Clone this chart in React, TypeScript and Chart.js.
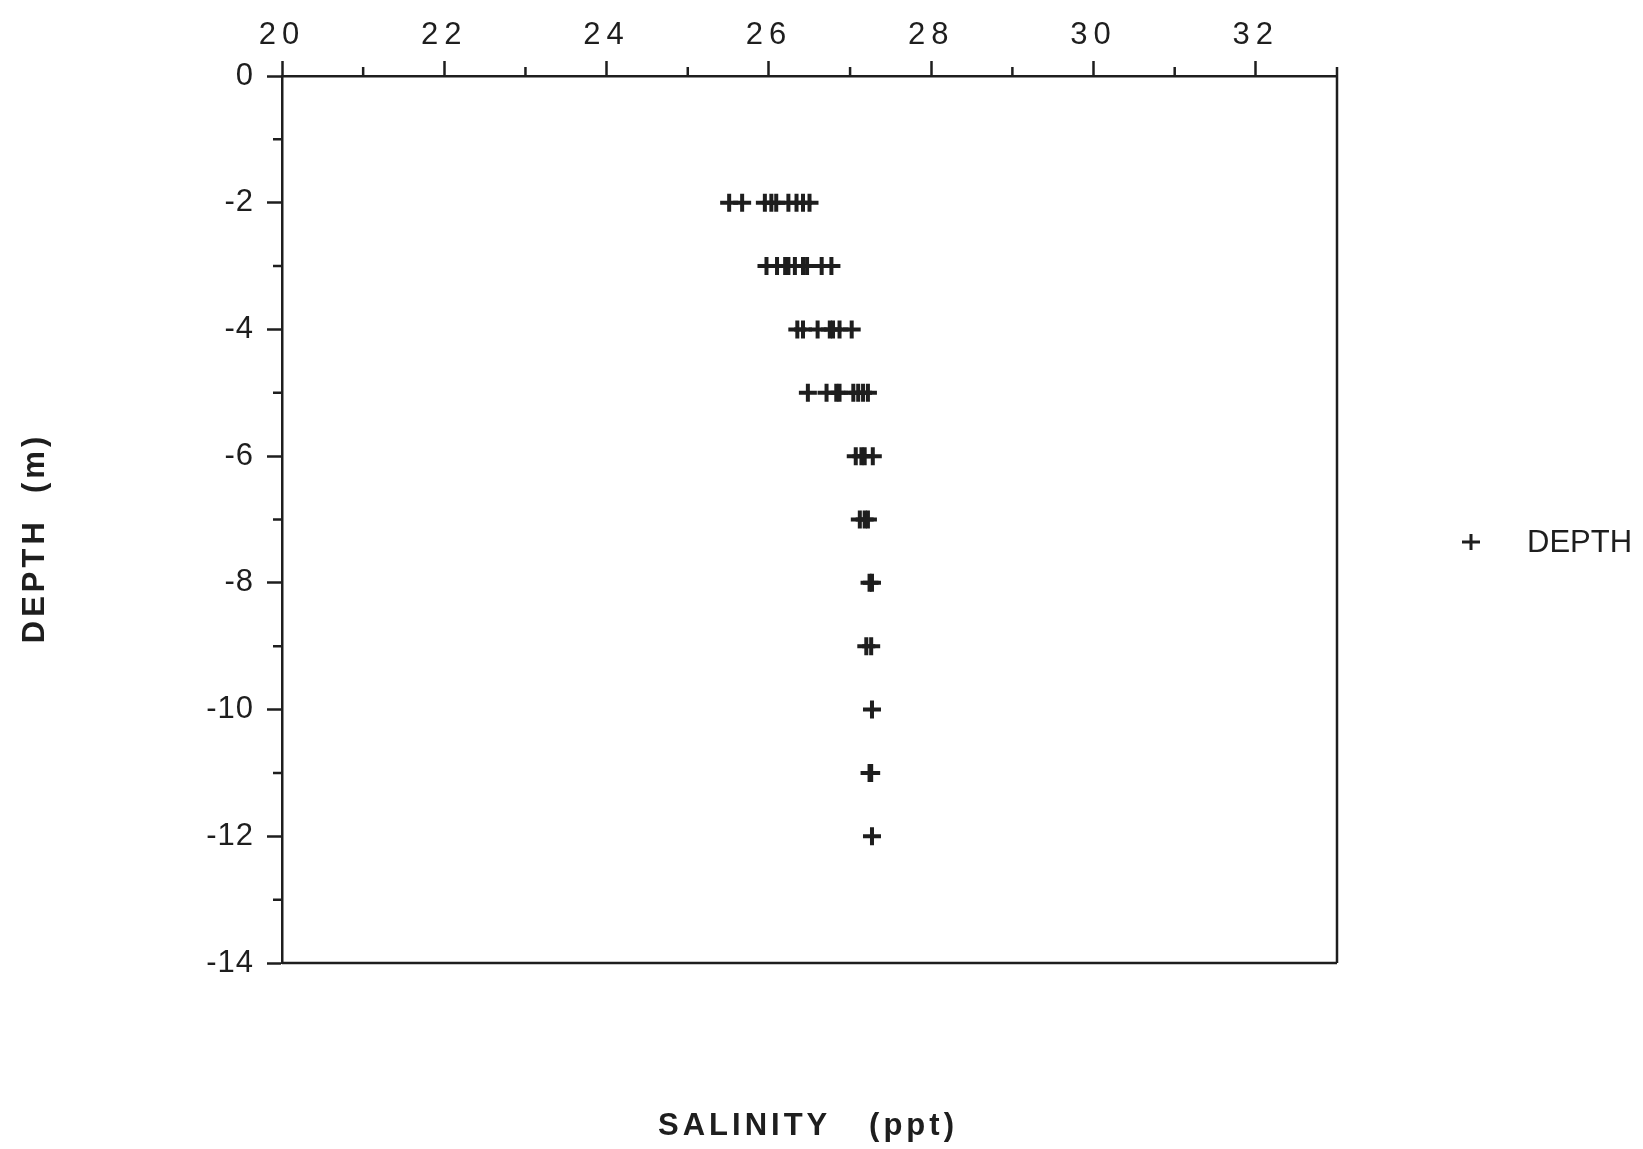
import { useEffect, useRef } from "react";
import { Chart, registerables } from "chart.js";

Chart.register(...registerables);

// Axis ticks
const salinityTicks = [20, 22, 24, 26, 28, 30, 32];
const salinityMinorTicks = [21, 23, 25, 27, 29, 31, 33];
const depthTicks = [0, -2, -4, -6, -8, -10, -12, -14];
const depthMinorTicks = [-1, -3, -5, -7, -9, -11, -13];

// Sampled depths (m) and the salinity readings (ppt) taken at each
const depthLevels = [-2, -3, -4, -5, -6, -7, -8, -9, -10, -11, -12];
const salinityAt2m = [25.51, 25.67, 25.95, 26.03, 26.09, 26.24, 26.34, 26.42, 26.5];
const salinityAt3m = [25.97, 26.1, 26.2, 26.24, 26.32, 26.42, 26.47, 26.65, 26.77];
const salinityAt4m = [26.35, 26.42, 26.6, 26.75, 26.79, 26.87, 27.02];
const salinityAt5m = [26.48, 26.71, 26.83, 26.87, 27.04, 27.1, 27.16, 27.22];
const salinityAt6m = [27.07, 27.14, 27.18, 27.28];
const salinityAt7m = [27.12, 27.18, 27.22];
const salinityAt8m = [27.24, 27.27];
const salinityAt9m = [27.2, 27.26];
const salinityAt10m = [27.27];
const salinityAt11m = [27.24, 27.26];
const salinityAt12m = [27.27];

const salinityByLevel = [
  salinityAt2m,
  salinityAt3m,
  salinityAt4m,
  salinityAt5m,
  salinityAt6m,
  salinityAt7m,
  salinityAt8m,
  salinityAt9m,
  salinityAt10m,
  salinityAt11m,
  salinityAt12m,
];

const INK = "#1e1e1e";
const SANS = "'Liberation Sans', Arial, Helvetica, sans-serif";
const W = 1643;
const H = 1149;

const points = depthLevels.flatMap((d, i) =>
  salinityByLevel[i].map((s) => ({ x: s, y: d }))
);

// Wraps a scale's label drawing so its text gets extra tracking
function trackLabels(chart: any, scale: any, spacing: string) {
  if (scale.__tracked) return;
  const orig = scale.drawLabels.bind(scale);
  scale.drawLabels = (area: any) => {
    const ctx = chart.ctx;
    ctx.save();
    ctx.letterSpacing = spacing;
    orig(area);
    ctx.restore();
  };
  scale.__tracked = true;
}

// Frame, minor ticks, axis titles and the legend entry
const decorPlugin = {
  id: "decor",
  beforeDraw(chart: any) {
    trackLabels(chart, chart.scales.x, "6px");
    trackLabels(chart, chart.scales.y, "1px");
  },
  afterDraw(chart: any) {
    const ctx = chart.ctx as CanvasRenderingContext2D;
    const { left, right, top, bottom } = chart.chartArea;
    const xs = chart.scales.x;
    const ys = chart.scales.y;
    ctx.save();
    ctx.strokeStyle = INK;
    ctx.lineWidth = 2.5;
    ctx.lineCap = "butt";

    ctx.beginPath();
    ctx.moveTo(right, top);
    ctx.lineTo(right, bottom);
    ctx.moveTo(left, bottom);
    ctx.lineTo(right, bottom);
    ctx.stroke();

    ctx.beginPath();
    salinityMinorTicks.forEach((v) => {
      const px = xs.getPixelForValue(v);
      ctx.moveTo(px, top);
      ctx.lineTo(px, top - 9);
    });
    depthMinorTicks.forEach((v) => {
      const py = ys.getPixelForValue(v);
      ctx.moveTo(left, py);
      ctx.lineTo(left - 9, py);
    });
    ctx.stroke();

    ctx.fillStyle = INK;
    ctx.font = `bold 31px ${SANS}`;
    (ctx as any).letterSpacing = "4px";
    ctx.textAlign = "center";
    ctx.textBaseline = "alphabetic";
    ctx.fillText("SALINITY   (ppt)", 808, 1135);

    ctx.save();
    ctx.translate(44, 538);
    ctx.rotate(-Math.PI / 2);
    ctx.fillText("DEPTH  (m)", 0, 0);
    ctx.restore();

    (ctx as any).letterSpacing = "0px";
    ctx.lineWidth = 3;
    ctx.beginPath();
    ctx.moveTo(1462, 542);
    ctx.lineTo(1480, 542);
    ctx.moveTo(1471, 534);
    ctx.lineTo(1471, 550);
    ctx.stroke();
    ctx.font = `31px ${SANS}`;
    ctx.textAlign = "left";
    ctx.textBaseline = "middle";
    ctx.fillText(chart.data.datasets[0].label, 1527, 543);
    ctx.restore();
  },
};

export default function App() {
  const canvasRef = useRef<HTMLCanvasElement | null>(null);

  useEffect(() => {
    const canvas = canvasRef.current;
    if (!canvas) return;
    const tickFont = { family: SANS, size: 31 };
    const chart = new Chart(canvas, {
      type: "scatter",
      data: {
        datasets: [
          {
            label: "DEPTH",
            data: points,
            pointStyle: "cross",
            pointRadius: 9,
            pointBorderWidth: 4,
            pointBorderColor: INK,
            pointBackgroundColor: INK,
            showLine: false,
          },
        ],
      },
      options: {
        responsive: false,
        animation: false,
        events: [],
        layout: { padding: { left: 0, top: 0, right: 306, bottom: 186 } },
        plugins: {
          legend: { display: false },
          tooltip: { enabled: false },
        },
        scales: {
          x: {
            type: "linear",
            position: "top",
            min: 20,
            max: 33,
            afterBuildTicks: (s: any) => {
              s.ticks = salinityTicks.map((v) => ({ value: v }));
            },
            afterFit: (s: any) => {
              s.height = 76;
            },
            grid: {
              drawOnChartArea: false,
              drawTicks: true,
              tickLength: 15,
              tickWidth: 2.5,
              tickColor: INK,
            },
            border: { display: true, color: INK, width: 2.5 },
            ticks: {
              font: tickFont,
              color: INK,
              padding: 7,
              maxRotation: 0,
              autoSkip: false,
              callback: (v: any) => String(v),
            },
          },
          y: {
            type: "linear",
            position: "left",
            min: -14,
            max: 0,
            afterBuildTicks: (s: any) => {
              s.ticks = depthTicks.map((v) => ({ value: v }));
            },
            afterFit: (s: any) => {
              s.width = 282;
            },
            grid: {
              drawOnChartArea: false,
              drawTicks: true,
              tickLength: 15,
              tickWidth: 2.5,
              tickColor: INK,
            },
            border: { display: true, color: INK, width: 2.5 },
            ticks: {
              font: tickFont,
              color: INK,
              padding: 13,
              autoSkip: false,
              callback: (v: any) => String(v),
            },
          },
        },
      },
      plugins: [decorPlugin],
    });
    return () => chart.destroy();
  }, []);

  return (
    <div style={{ position: "fixed", left: 0, top: 0, width: W, height: H, background: "#fff" }}>
      <canvas ref={canvasRef} width={W} height={H} style={{ display: "block", width: W, height: H }} />
    </div>
  );
}
